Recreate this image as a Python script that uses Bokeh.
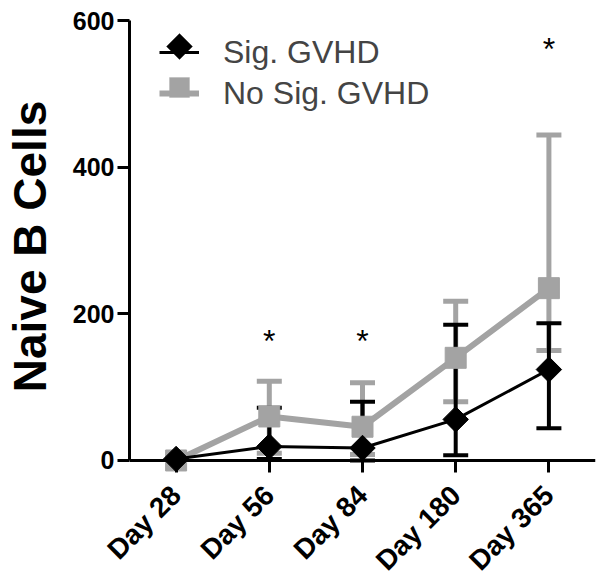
import math
from bokeh.plotting import figure
from bokeh.models import (ColumnDataSource, Whisker, TeeHead, Range1d, FactorRange,
                          Legend, LegendItem, FixedTicker, Span, PolyAnnotation)
from bokeh.core.properties import value
from bokeh.embed import file_html
from bokeh.resources import INLINE

days = ["Day 28", "Day 56", "Day 84", "Day 180", "Day 365"]
sig_mean = [2, 19, 17, 56, 124]
sig_upper = [2, 72, 80, 185, 187]
sig_lower = [2, 2, 0, 7, 44]
nosig_mean = [0, 60, 46, 140, 235]
nosig_upper = [0, 108, 106, 217, 444]
nosig_lower = [0, 10, 8, 80, 150]
star_days = ["Day 56", "Day 84", "Day 365"]
star_y = [168, 168, 567]
y_ticks = [0, 200, 400, 600]

BLACK = "#000000"
GRAY = "#a3a3a3"
FONT = "Liberation Sans"

# layout (pixels)
FL, FT, FW, FH, FB = 114, 20, 466, 452, 100
Y_MIN = -16.4

p = figure(x_range=FactorRange(*days), y_range=Range1d(Y_MIN, 600),
           frame_width=FW, frame_height=FH,
           min_border_left=FL, min_border_right=5, min_border_top=FT,
           min_border_bottom=FB,
           output_backend="svg", toolbar_location=None)
p.outline_line_color = None
p.grid.visible = False

src_sig = ColumnDataSource(dict(x=days, y=sig_mean))
src_no = ColumnDataSource(dict(x=days, y=nosig_mean))
src_sig_err = ColumnDataSource(dict(x=days[1:], up=sig_upper[1:], lo=sig_lower[1:]))
src_no_err = ColumnDataSource(dict(x=days[1:], up=nosig_upper[1:], lo=nosig_lower[1:]))

# x axis baseline at y = 0
p.add_layout(Span(location=0, dimension="width", line_color=BLACK, line_width=3))

# gray series
no_line = p.line("x", "y", source=src_no, line_color=GRAY, line_width=6)
p.add_layout(Whisker(base="x", upper="up", lower="lo", source=src_no_err, dimension="height",
                     line_color=GRAY, line_width=5,
                     upper_head=TeeHead(size=25, line_color=GRAY, line_width=5),
                     lower_head=TeeHead(size=25, line_color=GRAY, line_width=5)))
p.scatter("x", "y", source=src_no, marker="square", size=21,
          fill_color=GRAY, line_color=GRAY)

# black series
sig_line = p.line("x", "y", source=src_sig, line_color=BLACK, line_width=3)
p.add_layout(Whisker(base="x", upper="up", lower="lo", source=src_sig_err, dimension="height",
                     line_color=BLACK, line_width=4,
                     upper_head=TeeHead(size=25, line_color=BLACK, line_width=4),
                     lower_head=TeeHead(size=25, line_color=BLACK, line_width=4)))
p.scatter("x", "y", source=src_sig, marker="square", angle=math.pi / 4, size=18,
          fill_color=BLACK, line_color=BLACK)

# significance stars
p.text(x=star_days, y=star_y, text=["*"] * len(star_days), text_align="center",
       text_baseline="alphabetic", y_offset=4, text_font=value(FONT),
       text_font_size="32px", text_color=BLACK)

# axes
p.yaxis.bounds = (0, 600)
p.yaxis.ticker = FixedTicker(ticks=y_ticks)
for ax in (p.xaxis[0], p.yaxis[0]):
    ax.axis_line_width = 3
    ax.axis_line_color = BLACK
    ax.major_tick_line_width = 3
    ax.major_tick_line_color = BLACK
    ax.minor_tick_line_color = None
    ax.major_label_text_font = FONT
    ax.major_label_text_font_style = "bold"
    ax.major_label_text_color = BLACK
p.yaxis.major_tick_out = 12
p.yaxis.major_tick_in = 0
p.xaxis.axis_line_color = None
p.xaxis.major_tick_out = 0
p.xaxis.major_tick_in = 12
p.yaxis.major_label_text_font_size = "25px"
p.yaxis.major_label_standoff = 3
p.xaxis.major_label_text_font_size = "28px"
p.xaxis.major_label_orientation = math.pi / 4
p.xaxis.major_label_text_align = "right"
p.xaxis.major_label_text_baseline = "middle"
p.xaxis.major_label_standoff = 18
p.yaxis.axis_label = "Naive B Cells"
p.yaxis.axis_label_text_font = FONT
p.yaxis.axis_label_text_font_style = "bold"
p.yaxis.axis_label_text_font_size = "46px"
p.yaxis.axis_label_text_color = BLACK
p.yaxis.axis_label_standoff = 14

# legend
LEG_X, PAD, GW, GH, SP, TOP_GAP = 30, 6, 40, 38, 3, 1
leg_h = 2 * GH + SP + 2 * PAD
leg_bottom = FH - TOP_GAP - leg_h
legend = Legend(items=[LegendItem(label="Sig. GVHD", renderers=[sig_line]),
                       LegendItem(label="No Sig. GVHD", renderers=[no_line])],
                location=(LEG_X, leg_bottom), orientation="vertical",
                glyph_width=GW, glyph_height=GH, label_height=GH, spacing=SP,
                label_standoff=24, padding=PAD, margin=0,
                label_text_font=FONT, label_text_font_size="32px",
                label_text_baseline="middle",
                border_line_color=None, background_fill_alpha=0)
p.add_layout(legend)

# legend keys (diamond / square) drawn over the legend lines, in frame-relative screen units
cx = LEG_X + PAD + GW / 2 - 6
cy0 = leg_bottom + leg_h - PAD - GH / 2
cy1 = cy0 - (GH + SP)
d, s = 13, 10
p.add_layout(PolyAnnotation(xs=[cx, cx + d, cx, cx - d], ys=[cy0 - d, cy0, cy0 + d, cy0],
                            xs_units="screen", ys_units="screen",
                            fill_color=BLACK, fill_alpha=1, line_color=BLACK, line_width=1))
p.add_layout(PolyAnnotation(xs=[cx - s, cx + s, cx + s, cx - s], ys=[cy1 - s, cy1 - s, cy1 + s, cy1 + s],
                            xs_units="screen", ys_units="screen",
                            fill_color=GRAY, fill_alpha=1, line_color=GRAY, line_width=1))

open("out.html", "w").write(file_html(p, INLINE))
